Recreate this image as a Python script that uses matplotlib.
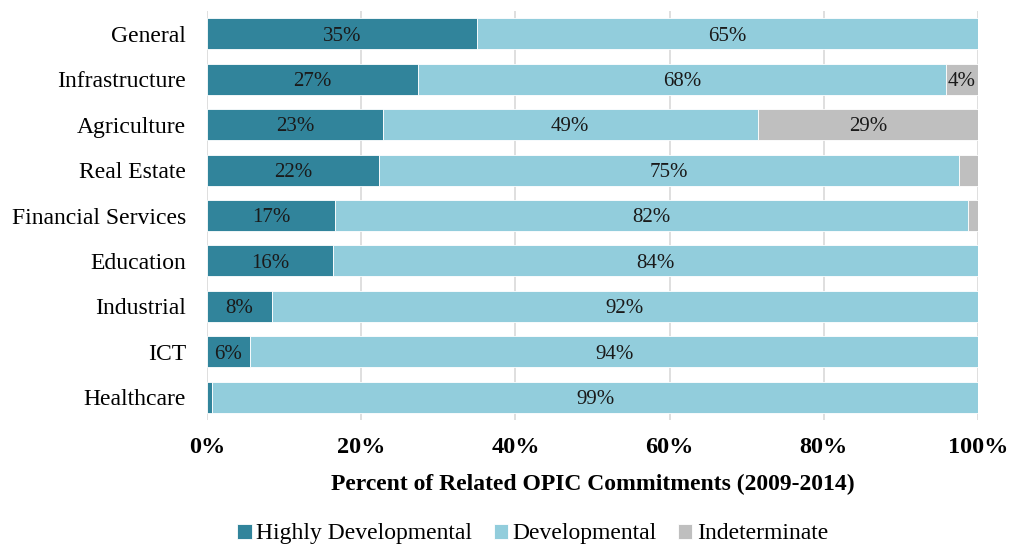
import matplotlib.pyplot as plt
import numpy as np

plt.rcParams['font.family'] = ['Liberation Serif', 'DejaVu Serif']

sectors = ["General", "Infrastructure", "Agriculture", "Real Estate", "Financial Services",
           "Education", "Industrial", "ICT", "Healthcare"]
highly = [35.0, 27.4, 22.8, 22.3, 16.6, 16.4, 8.4, 5.6, 0.65]
developmental = [65.0, 68.4, 48.6, 75.2, 82.1, 83.6, 91.6, 94.4, 99.35]
indeterminate = [0.0, 4.2, 28.6, 2.5, 1.3, 0.0, 0.0, 0.0, 0.0]

series = [("Highly Developmental", highly, "#31849B"),
          ("Developmental", developmental, "#92CDDC"),
          ("Indeterminate", indeterminate, "#BFBFBF")]

fig = plt.figure(figsize=(10.11, 5.46), dpi=100)
ax = fig.add_axes([0.2047, 0.2308, 0.7627, 0.749])

y = np.arange(len(sectors))
left = np.zeros(len(sectors))
for name, vals, color in series:
    vals = np.array(vals)
    ax.barh(y, vals, left=left, height=0.68, color=color, edgecolor="white",
            linewidth=0.6, label=name, zorder=3)
    for yi, (l, v) in enumerate(zip(left, vals)):
        if v >= 3:
            ax.text(l + v / 2, yi + 0.05, f"{round(v):.0f}%", ha="center", va="center",
                    fontsize=15, color="#1a1a1a", zorder=4)
    left += vals

ax.set_ylim(len(sectors) - 0.5, -0.5)
ax.set_xlim(0, 100)
ax.set_yticks(y)
ax.set_yticklabels(sectors, fontsize=17)
ax.set_xticks(np.arange(0, 101, 20))
ax.set_xticklabels([f"{v}%" for v in range(0, 101, 20)], fontsize=17.5, fontweight="bold")
ax.tick_params(axis="y", length=0, pad=15)
ax.tick_params(axis="x", length=0, pad=12)
ax.grid(axis="x", color="#D9D9D9", linewidth=1.2, zorder=0)
for s in ax.spines.values():
    s.set_visible(False)
ax.set_xlabel("Percent of Related OPIC Commitments (2009-2014)", fontsize=17,
              fontweight="bold", labelpad=12)

fig.legend(loc="lower center", bbox_to_anchor=(0.527, -0.036), ncol=3, frameon=False,
           fontsize=17, handlelength=0.6, handleheight=0.6, handletextpad=0.2,
           columnspacing=0.9)

fig.savefig("out.png", dpi=100)
